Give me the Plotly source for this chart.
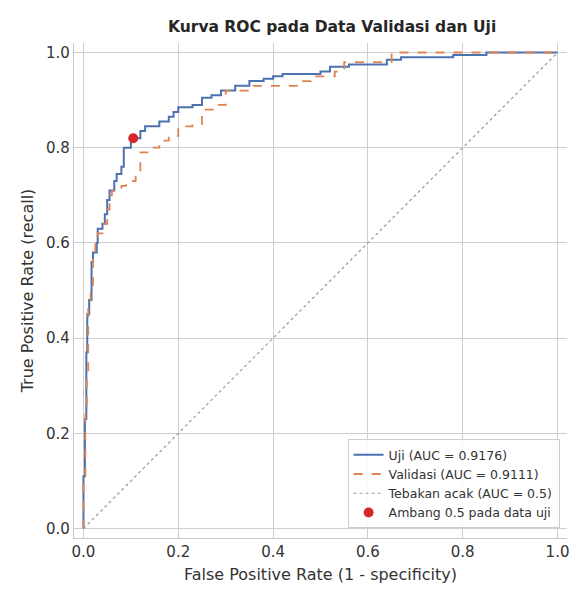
import plotly.graph_objects as go

uji_fpr = [0,0,0.003,0.006,0.008,0.012,0.017,0.02,0.028,0.03,0.04,0.045,0.05,0.055,0.065,0.07,0.08,0.085,0.10,0.12,0.13,0.16,0.18,0.19,0.20,0.23,0.25,0.27,0.29,0.32,0.35,0.38,0.40,0.42,0.50,0.52,0.56,0.64,0.67,0.78,0.85,1.0]
uji_tpr = [0,0.11,0.23,0.37,0.45,0.48,0.56,0.58,0.60,0.63,0.64,0.66,0.69,0.71,0.73,0.745,0.76,0.80,0.82,0.835,0.845,0.855,0.865,0.875,0.885,0.89,0.905,0.91,0.92,0.93,0.94,0.945,0.95,0.955,0.96,0.97,0.975,0.985,0.99,0.995,1.0,1.0]
val_fpr = [0,0,0.004,0.007,0.01,0.015,0.02,0.025,0.03,0.04,0.05,0.055,0.06,0.08,0.09,0.11,0.12,0.14,0.16,0.18,0.20,0.23,0.25,0.28,0.30,0.35,0.42,0.45,0.48,0.53,0.55,0.63,0.65,1.0]
val_tpr = [0,0.1,0.24,0.33,0.47,0.5,0.57,0.6,0.62,0.64,0.67,0.70,0.71,0.72,0.73,0.75,0.79,0.80,0.815,0.825,0.845,0.85,0.88,0.89,0.92,0.93,0.93,0.94,0.95,0.96,0.98,0.98,1.0,1.0]
thr_fpr = [0.105]
thr_tpr = [0.82]

fig = go.Figure()
fig.add_trace(go.Scatter(x=uji_fpr, y=uji_tpr, mode="lines", line_shape="hv",
    line=dict(color="#4c72b0", width=2), name="Uji (AUC = 0.9176)"))
fig.add_trace(go.Scatter(x=val_fpr, y=val_tpr, mode="lines", line_shape="hv",
    line=dict(color="#dd8452", width=1.8, dash="dash"), name="Validasi (AUC = 0.9111)"))
fig.add_trace(go.Scatter(x=[0,1], y=[0,1], mode="lines",
    line=dict(color="#999999", width=1.2, dash="dot"), name="Tebakan acak (AUC = 0.5)"))
fig.add_trace(go.Scatter(x=thr_fpr, y=thr_tpr, mode="markers",
    marker=dict(color="#d62728", size=10), name="Ambang 0.5 pada data uji"))

ax = dict(range=[-0.02,1.02], showgrid=True, gridcolor="#cfcfcf", gridwidth=1.4,
          zeroline=False, showline=True, linecolor="#c8c8c8", linewidth=1.4,
          tickvals=[0,0.2,0.4,0.6,0.8,1.0], ticktext=["0.0","0.2","0.4","0.6","0.8","1.0"],
          ticks="", tickfont=dict(size=15, color="#333333"), automargin=False)
fig.update_layout(
    width=584, height=604, plot_bgcolor="white", paper_bgcolor="white",
    font=dict(family="DejaVu Sans", color="#333333"),
    margin=dict(l=66, r=25, t=35, b=74),
    title=dict(text="<b>Kurva ROC pada Data Validasi dan Uji</b>", x=0.555, xanchor="center",
               y=0.97, yanchor="middle", font=dict(size=15.5, color="#262626")),
    xaxis=dict(ax, title=dict(text="False Positive Rate (1 - specificity)", font=dict(size=16), standoff=8)),
    yaxis=dict(ax, title=dict(text="True Positive Rate (recall)", font=dict(size=16), standoff=8)),
    legend=dict(x=0.985, y=0.02, xanchor="right", yanchor="bottom", bgcolor="rgba(255,255,255,0.85)",
                bordercolor="#cccccc", borderwidth=1, font=dict(size=12.5)),
)
fig.write_html("out.html")
